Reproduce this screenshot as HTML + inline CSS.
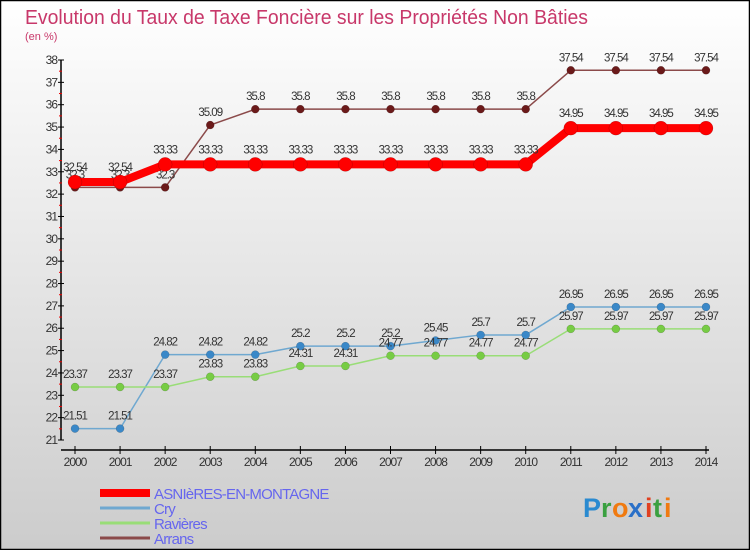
<!DOCTYPE html>
<html><head><meta charset="utf-8">
<style>
html,body{margin:0;padding:0}
body{width:750px;height:550px;overflow:hidden;font-family:"Liberation Sans",sans-serif}
</style></head>
<body>
<svg id="c" width="750" height="550" xmlns="http://www.w3.org/2000/svg">
<defs>
<linearGradient id="bg" x1="0" y1="0" x2="0" y2="1">
<stop offset="0" stop-color="#ffffff"/><stop offset="1" stop-color="#cccccc"/>
</linearGradient>
</defs>
<rect x="0.5" y="0.5" width="749" height="549" fill="url(#bg)" stroke="#000" stroke-width="1.5"/>
<text x="25" y="24" font-size="20" fill="#c8386a" textLength="563" lengthAdjust="spacingAndGlyphs">Evolution du Taux de Taxe Foncière sur les Propriétés Non Bâties</text>
<text x="25" y="40" font-size="11" fill="#c8386a">(en %)</text>
<g id="axes"></g>
<g id="series"></g>
<g id="legend"></g>
<g font-size="27" font-weight="bold" font-family="'Liberation Sans',sans-serif">
<text x="583" y="517" fill="#2a8ad0">P</text><text x="601" y="517" fill="#3aa040">r</text><text x="612" y="517" fill="#f07a10">o</text><text x="628" y="517" fill="#2a70c8">x</text><text x="645" y="517" fill="#e04020">i</text><text x="653" y="517" fill="#3aa040">t</text><text x="664" y="517" fill="#f07a10">i</text>
</g>
</svg>
<script>
const years=[2000,2001,2002,2003,2004,2005,2006,2007,2008,2009,2010,2011,2012,2013,2014];
const yTicks=[21,22,23,24,25,26,27,28,29,30,31,32,33,34,35,36,37,38];
const asnieres=[32.54,32.54,33.33,33.33,33.33,33.33,33.33,33.33,33.33,33.33,33.33,34.95,34.95,34.95,34.95];
const cry=[21.51,21.51,24.82,24.82,24.82,25.2,25.2,25.2,25.45,25.7,25.7,26.95,26.95,26.95,26.95];
const ravieres=[23.37,23.37,23.37,23.83,23.83,24.31,24.31,24.77,24.77,24.77,24.77,25.97,25.97,25.97,25.97];
const arrans=[32.3,32.3,32.3,35.09,35.8,35.8,35.8,35.8,35.8,35.8,35.8,37.54,37.54,37.54,37.54];
const seriesNames=["ASNIèRES-EN-MONTAGNE","Cry","Ravières","Arrans"];

const NS="http://www.w3.org/2000/svg";
const X0=75,X1=706,Y0=440,Y1=60,YMIN=21,YMAX=38;
function xs(i){return X0+(X1-X0)*i/(years.length-1);}
function ys(v){return Y0-(v-YMIN)*(Y0-Y1)/(YMAX-YMIN);}
function mk(tag,attrs,parent){const e=document.createElementNS(NS,tag);for(const k in attrs)e.setAttribute(k,attrs[k]);parent.appendChild(e);return e;}
const axes=document.getElementById('axes');
let yl=mk('line',{x1:61,y1:Y1,x2:61,y2:Y0,stroke:'#000','stroke-width':1.5},axes);


yTicks.forEach(t=>{
  const y=ys(t);
  mk('line',{x1:58,y1:y,x2:64,y2:y,stroke:'#000'},axes);
  if(t<YMAX)mk('line',{x1:59,y1:ys(t+0.5),x2:62,y2:ys(t+0.5),stroke:'#e00'},axes);
  const tx=mk('text',{x:57,y:y+4,'font-size':12,fill:'#333','text-anchor':'end','letter-spacing':'-1'},axes);
  tx.textContent=t;
  
  
});
let xl=mk('line',{x1:61,y1:450,x2:709,y2:450,stroke:'#000','stroke-width':1.5},axes);


years.forEach((yr,i)=>{
  const x=xs(i);
  mk('line',{x1:x,y1:446,x2:x,y2:454,stroke:'#000'},axes);
  const tx=mk('text',{x:x,y:466,'font-size':12,fill:'#333','text-anchor':'middle','letter-spacing':'-1'},axes);
  tx.textContent=yr;
  
  
});
const ser=document.getElementById('series');
function draw(vals,name,color,dot,w,r,dy){
  const g=mk('g',{},ser);
  
  
  mk('polyline',{points:vals.map((v,i)=>xs(i)+','+ys(v)).join(' '),fill:'none',stroke:color,'stroke-width':w,'stroke-linejoin':'round'},g);
  vals.forEach((v,i)=>{
    const c=mk('circle',{cx:xs(i),cy:ys(v),r:r,fill:dot,stroke:'rgba(0,0,0,0.25)','stroke-width':0.5},g);
    
    
    const t=mk('text',{x:xs(i),y:ys(v)+dy,'font-size':11.5,fill:'#333','text-anchor':'middle','letter-spacing':'-1'},g);
    t.textContent=String(v);
    
    
  });
}
draw(cry,'series-cry','#6fa8d0','#3a88c8',1.5,4,-9);
draw(ravieres,'series-ravieres','#99dd77','#77cc44',1.5,4,-9);
draw(arrans,'series-arrans','#8b4a4a','#6b1a1a',1.5,4,-9);
draw(asnieres,'series-asnieres','#f00','#f00',8,7,-11);
const lg=document.getElementById('legend');
const lcol=['#f00','#6fa8d0','#99dd77','#8b4a4a'],lw=[8,3,3,3];
seriesNames.forEach((n,i)=>{
  const y=493+i*15;
  const ln=mk('line',{x1:100,y1:y,x2:150,y2:y,stroke:lcol[i],'stroke-width':lw[i]},lg);
  
  
  const t=mk('text',{x:154,y:y+6,'font-size':15,fill:'#6666ee','letter-spacing':'-0.8'},lg);
  t.textContent=n;
  
  
});
</script>
</body></html>
